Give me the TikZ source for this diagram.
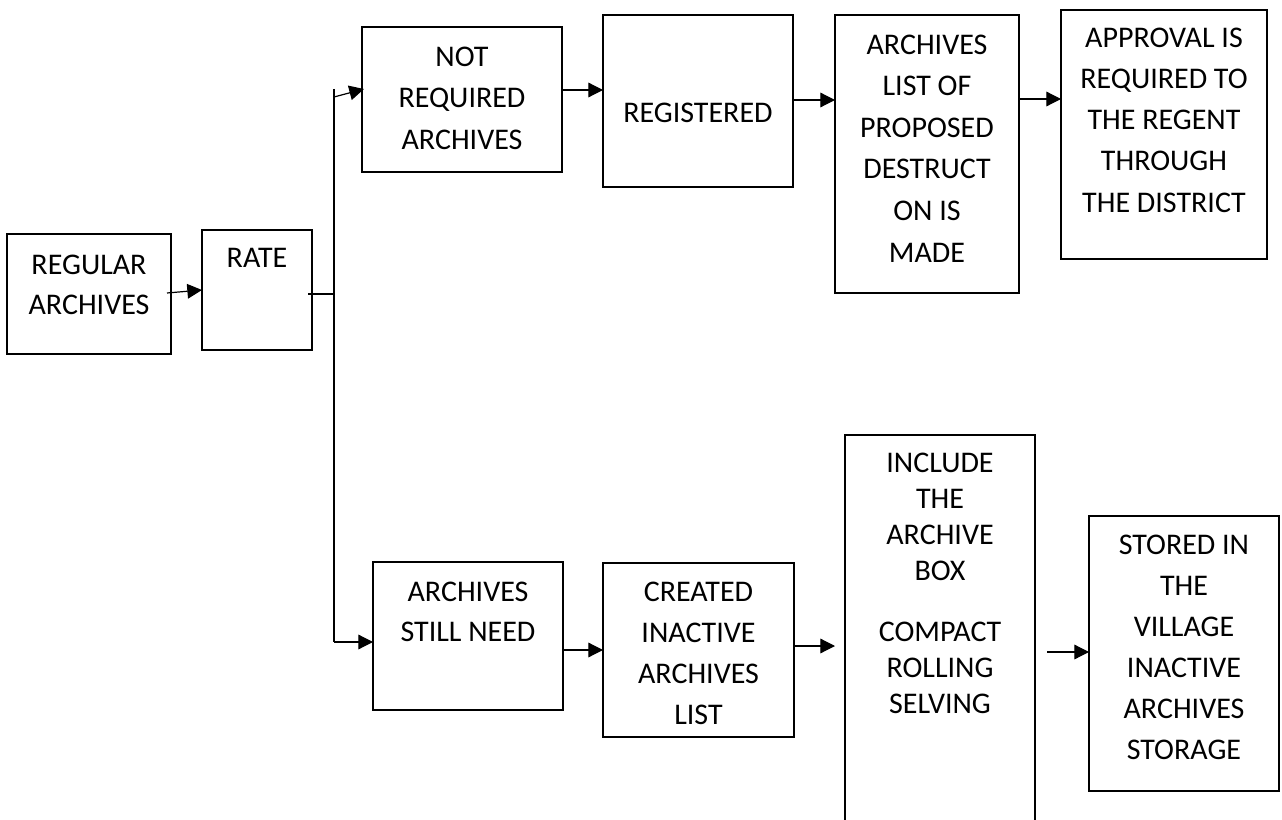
\documentclass[tikz,border=0pt]{standalone}
\usepackage{fontspec}
\setmainfont{Carlito}
\usetikzlibrary{arrows.meta,calc}
\newdimen\pxu \pxu=0.75pt
% #1 width px, #2 height px, #3 first baseline from top px, #4 line spacing px, #5 text
\newcommand{\btxt}[5]{\parbox[t][#2\pxu][t]{#1\pxu}{\vspace*{\dimexpr#3\pxu-14.5pt\relax}\centering\fontsize{22.5pt}{30pt}\selectfont\setlength{\baselineskip}{#4\pxu}#5\par}}
\begin{document}
\begin{tikzpicture}[x=0.75pt,y=-0.75pt,
  box/.style={draw, line width=1pt, inner sep=0pt, outer sep=0pt, anchor=north west},
  conn/.style={line width=0.9pt},
  arr/.style={conn, -{Triangle[length=11pt,width=11pt]}}]
\useasboundingbox (0,0) rectangle (1282,820);
\clip (0,0) rectangle (1282,820);

\node[box] (reg) at (7,234) {\btxt{164}{120}{40}{40}{REGULAR\\ARCHIVES}};
\node[box] (rate) at (202,230) {\btxt{110}{120}{38}{40}{RATE}};
\node[box] (notreq) at (362,27) {\btxt{200}{145}{39}{41.5}{NOT\\REQUIRED\\ARCHIVES}};
\node[box] (registered) at (603,15) {\btxt{190}{172}{107}{41}{REGISTERED}};
\node[box] (archlist) at (835,15) {\btxt{184}{278}{39}{41.6}{ARCHIVES\\LIST OF\\PROPOSED\\DESTRUCT\\ON IS\\MADE}};
\node[box] (approval) at (1061,10) {\btxt{206}{249}{37}{41.25}{APPROVAL IS\\REQUIRED TO\\THE REGENT\\THROUGH\\THE DISTRICT}};
\node[box] (stillneed) at (373,562) {\btxt{190}{148}{39}{40}{ARCHIVES\\STILL NEED}};
\node[box] (created) at (603,563) {\btxt{191}{174}{38}{41}{CREATED\\INACTIVE\\ARCHIVES\\LIST}};
\node[box] (include) at (845,435) {\btxt{190}{400}{37}{36}{INCLUDE\\THE\\ARCHIVE\\BOX\\[\dimexpr25\pxu\relax]COMPACT\\ROLLING\\SELVING}};
\node[box] (stored) at (1089,516) {\btxt{190}{275}{38}{41}{STORED IN\\THE\\VILLAGE\\INACTIVE\\ARCHIVES\\STORAGE}};

\coordinate (split) at (334,294);
\coordinate (vtop) at (334,89);
\coordinate (vbot) at (334,642);

\draw[arr] ($(reg.east)+(-4,-1)$) -- (rate.west);
\draw[conn] ($(rate.east)+(-4,4)$) -- (split);
\draw[conn] (vtop) -- (vbot);
\draw[arr] ($(vtop)+(0,8)$) -- ($(notreq.north west)+(2,62)$);
\draw[arr] (vbot) -- (vbot -| stillneed.west);
\draw[arr] ($(notreq.north east)+(0,63)$) -- ($(registered.north west)+(0,75)$);
\draw[arr] ($(registered.north east)+(0,85)$) -- ($(archlist.north west)+(0,85)$);
\draw[arr] ($(archlist.north east)+(0,84)$) -- ($(approval.north west)+(0,89)$);
\draw[arr] ($(stillneed.north east)+(0,88)$) -- ($(created.north west)+(0,87)$);
\draw[arr] ($(created.north east)+(0,83)$) -- ($(include.north west)+(-10,211)$);
\draw[arr] ($(include.north east)+(12,217)$) -- ($(stored.north west)+(0,136)$);
\end{tikzpicture}
\end{document}
